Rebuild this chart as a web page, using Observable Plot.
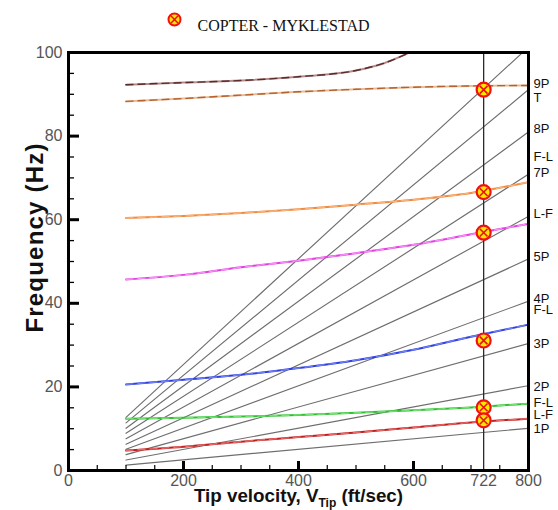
<!DOCTYPE html>
<html>
<head>
<meta charset="utf-8">
<script src="https://cdn.jsdelivr.net/npm/d3@7"></script>
<script src="https://cdn.jsdelivr.net/npm/@observablehq/plot@0.6"></script>
<style>
  html, body { margin: 0; padding: 0; background: #fff; }
</style>
</head>
<body>
<div id="chart"></div>
<script>
// Tip speeds (ft/sec) at which the blade frequencies are tabulated
const speeds = [100, 200, 300, 400, 500, 600, 700, 800];
const upperSpeeds = [100, 200, 300, 400, 500, 550, 600, 650];

// Blade natural frequencies (Hz) versus tip speed
const upperMode = [92.3, 92.8, 93.3, 94.2, 95.7, 97.5, 100.4, 103.5];
const torsionMode = [88.3, 89.0, 89.8, 90.6, 91.2, 91.7, 92.0, 92.1];
const orangeMode = [60.4, 60.9, 61.6, 62.5, 63.6, 64.8, 66.4, 69.0];
const pinkMode = [45.7, 46.8, 48.6, 50.2, 52.0, 54.0, 56.5, 59.0];
const blueMode = [20.6, 21.7, 22.9, 24.5, 26.4, 28.9, 32.0, 34.9];
const greenMode = [12.4, 12.6, 12.9, 13.3, 13.8, 14.4, 15.1, 16.0];
const redMode = [4.8, 5.7, 6.9, 8.0, 9.1, 10.3, 11.5, 12.4];

// Per-rev excitation lines (1P .. 10P): frequency at 100 and 800 ft/sec
const revStartSpeed = 100;
const revEndSpeed = 800;
const revAtStart = [1.3, 2.5, 3.8, 5.1, 6.3, 7.6, 8.9, 10.1, 11.4, 12.7];
const revAtEnd = [10.1, 20.3, 30.4, 40.5, 50.6, 60.8, 70.9, 81.0, 91.1, 101.3];

// COPTER - MYKLESTAD results at the operating tip speed
const copterSpeed = 722;
const copterFreq = [91.1, 66.6, 56.9, 31.1, 15.1, 12.0];

// Labels along the right edge
const sideLabels = ["9P", "T", "8P", "F-L", "7P", "L-F", "5P", "4P", "F-L", "3P", "2P", "F-L", "L-F", "1P"];
const sideLabelFreq = [92.6, 89.2, 81.8, 75.1, 71.1, 61.5, 51.0, 41.1, 38.5, 30.4, 20.1, 16.3, 13.4, 10.0];

// Axis ticks
const xTickLabels = [0, 200, 400, 600, 722, 800];
const xMajor = [200, 400, 600];
const xMinor = [50, 100, 150, 250, 300, 350, 450, 500, 550, 650, 700, 750];
const yTickLabels = [0, 20, 40, 60, 80, 100];
const yMajor = [20, 40, 60, 80];
const yMinor = [5, 10, 15, 25, 30, 35, 45, 50, 55, 65, 70, 75, 85, 90, 95];

const legendText = "COPTER - MYKLESTAD";
const xTitle = "Tip velocity, VTip (ft/sec)";
const yTitle = "Frequency (Hz)";

// Mode curves: each drawn as a solid line with a dashed overlay
const modes = [
  {x: upperSpeeds, y: upperMode, base: "#b58c8c", dash: "#5c2b2b"},
  {x: speeds, y: torsionMode, base: "#e6bc9c", dash: "#b8622a"},
  {x: speeds, y: orangeMode, base: "#f08a3e", dash: "#f8b27a"},
  {x: speeds, y: pinkMode, base: "#e23fe2", dash: "#f590f5"},
  {x: speeds, y: blueMode, base: "#2f3fe0", dash: "#7080f2"},
  {x: speeds, y: greenMode, base: "#2fc02f", dash: "#78e078"},
  {x: speeds, y: redMode, base: "#c21e1e", dash: "#e66a6a"}
];

const revLines = revAtStart.flatMap((f0, i) => [
  {order: i + 1, v: revStartSpeed, f: f0},
  {order: i + 1, v: revEndSpeed, f: revAtEnd[i]}
]);

const modeMarks = modes.flatMap(m => {
  const pts = m.x.map((v, i) => ({v, f: m.y[i]}));
  return [
    Plot.line(pts, {x: "v", y: "f", stroke: m.base, strokeWidth: 2, curve: "monotone-x", clip: true}),
    Plot.line(pts, {x: "v", y: "f", stroke: m.dash, strokeWidth: 1.4, strokeDasharray: "7,5", curve: "monotone-x", clip: true})
  ];
});

const copterPts = copterFreq.map(f => ({v: copterSpeed, f}));
const sidePts = sideLabels.map((t, i) => ({t, f: sideLabelFreq[i]}));

const font = "'Liberation Sans', Arial, Helvetica, sans-serif";

const svg = Plot.plot({
  width: 558,
  height: 510,
  marginLeft: 68,
  marginRight: 30,
  marginTop: 52,
  marginBottom: 40,
  style: {fontFamily: font, background: "#fff", color: "#000", overflow: "visible"},
  x: {domain: [0, 800]},
  y: {domain: [0, 100]},
  marks: [
    // per-rev lines
    Plot.line(revLines, {x: "v", y: "f", z: "order", stroke: "#6e6e6e", strokeWidth: 1.15, clip: true}),
    ...modeMarks,
    // operating tip speed
    Plot.ruleX([copterSpeed], {y1: 0, y2: 100, stroke: "#2b2b2b", strokeWidth: 1.3}),
    // COPTER - MYKLESTAD points
    Plot.dot(copterPts, {x: "v", y: "f", r: 7, fill: "#ffe600", stroke: "#f01010", strokeWidth: 2.2}),
    Plot.dot(copterPts, {x: "v", y: "f", r: 3.6, symbol: "times", stroke: "#e81010", strokeWidth: 1.6}),
    Plot.frame({stroke: "#000", strokeWidth: 3}),
    // inward ticks
    Plot.axisX(xMajor, {tickSize: 9, dy: -9, fill: "none", label: null, strokeWidth: 3}),
    Plot.axisX(xMinor, {tickSize: 5, dy: -5, fill: "none", label: null, strokeWidth: 1.2}),
    Plot.axisY(yMajor, {tickSize: 11, dx: 11, fill: "none", label: null, strokeWidth: 3}),
    Plot.axisY(yMinor, {tickSize: 6, dx: 6, fill: "none", label: null, strokeWidth: 1.3}),
    // tick labels
    Plot.axisX(xTickLabels, {tickSize: 0, tickPadding: 4, fontSize: 16, fill: "#555", label: null}),
    Plot.axisY(yTickLabels, {tickSize: 0, tickPadding: 6, fontSize: 16, fill: "#555", label: null}),
    // axis titles
    Plot.text([yTitle], {frameAnchor: "left", textAnchor: "middle", rotate: -90, dx: -33, dy: -24, fontSize: 24, fontWeight: "bold", fill: "#111"}),
    Plot.text([xTitle], {frameAnchor: "bottom", dy: 31, fontSize: 18.8, fontWeight: "bold", fill: "#111"}),
    // right-edge labels
    Plot.text(sidePts, {x: () => revEndSpeed, y: "f", text: "t", dx: 5, textAnchor: "start", fontSize: 13, fill: "#111"}),
    // legend
    Plot.dot([legendText], {frameAnchor: "top-left", dx: 106, dy: -33, r: 6, fill: "#ffe600", stroke: "#f01010", strokeWidth: 2}),
    Plot.dot([legendText], {frameAnchor: "top-left", dx: 106, dy: -33, r: 3.2, symbol: "times", stroke: "#e81010", strokeWidth: 1.5}),
    Plot.text([legendText], {frameAnchor: "top-left", dx: 129, dy: -33, textAnchor: "start", fontSize: 16, fontFamily: "'Liberation Serif', 'Times New Roman', serif", fill: "#111"})
  ]
});

// subscript on the x-axis title
d3.select(svg).selectAll("text")
  .filter(function () { return this.textContent === xTitle; })
  .each(function () {
    const t = d3.select(this);
    t.text(null);
    t.append("tspan").text("Tip velocity, V");
    t.append("tspan").attr("font-size", 12).attr("dy", 5).text("Tip");
    t.append("tspan").attr("dy", -5).text(" (ft/sec)");
  });

// slightly wider tracking on the y-axis title
d3.select(svg).selectAll("text")
  .filter(function () { return this.textContent === yTitle; })
  .attr("letter-spacing", 1.2);

document.getElementById("chart").appendChild(svg);
</script>
</body>
</html>
